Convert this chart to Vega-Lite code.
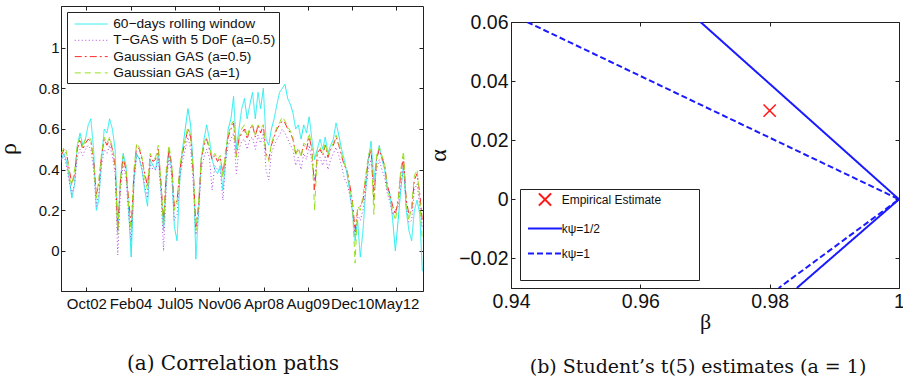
{
  "$schema": "https://vega.github.io/schema/vega-lite/v6.json",
  "background": "white",
  "padding": {"left": -5, "top": 5, "right": 0, "bottom": 0},
  "spacing": 2,
  "config": {
    "view": {"stroke": "#222", "strokeWidth": 1},
    "axis": {"grid": false, "domainColor": "#222", "tickColor": "#222", "labelColor": "#111", "titleColor": "#111", "labelFont": "Liberation Sans", "titleFont": "Liberation Serif", "titleFontWeight": "normal", "tickSize": -4, "labelFlush": false},
    "title": {"font": "DejaVu Serif", "fontWeight": "normal", "color": "#111"}
  },
  "resolve": {
    "scale": {"x": "independent", "y": "independent", "color": "independent", "strokeDash": "independent", "shape": "independent"},
    "legend": {"color": "independent", "strokeDash": "independent", "shape": "independent"}
  },
  "hconcat": [
    {
      "width": 362,
      "height": 285,
      "title": {"text": "(a) Correlation paths", "orient": "bottom", "fontSize": 20, "offset": 43, "dx": -9, "anchor": "middle"},
      "resolve": {"axis": {"x": "independent", "y": "independent"}},
      "layer": [
        {
          "data": {"values": [
            {"d":"2002-01-01","R":0.45,"T":0.44,"G":0.47,"H":0.48},
            {"d":"2002-02-01","R":0.48,"T":0.47,"G":0.50,"H":0.51},
            {"d":"2002-03-01","R":0.44,"T":0.42,"G":0.48,"H":0.49},
            {"d":"2002-04-01","R":0.36,"T":0.34,"G":0.40,"H":0.38},
            {"d":"2002-05-01","R":0.26,"T":0.28,"G":0.33,"H":0.32},
            {"d":"2002-06-01","R":0.33,"T":0.33,"G":0.38,"H":0.40},
            {"d":"2002-07-01","R":0.52,"T":0.46,"G":0.50,"H":0.52},
            {"d":"2002-08-01","R":0.58,"T":0.50,"G":0.55,"H":0.56},
            {"d":"2002-09-01","R":0.52,"T":0.47,"G":0.50,"H":0.51},
            {"d":"2002-10-01","R":0.55,"T":0.50,"G":0.53,"H":0.55},
            {"d":"2002-11-01","R":0.62,"T":0.52,"G":0.55,"H":0.56},
            {"d":"2002-12-01","R":0.65,"T":0.50,"G":0.54,"H":0.55},
            {"d":"2003-01-01","R":0.50,"T":0.40,"G":0.45,"H":0.44},
            {"d":"2003-02-01","R":0.20,"T":0.22,"G":0.28,"H":0.26},
            {"d":"2003-03-01","R":0.25,"T":0.28,"G":0.33,"H":0.35},
            {"d":"2003-04-01","R":0.45,"T":0.42,"G":0.47,"H":0.48},
            {"d":"2003-05-01","R":0.60,"T":0.50,"G":0.55,"H":0.56},
            {"d":"2003-06-01","R":0.58,"T":0.48,"G":0.52,"H":0.53},
            {"d":"2003-07-01","R":0.65,"T":0.52,"G":0.55,"H":0.56},
            {"d":"2003-08-01","R":0.60,"T":0.47,"G":0.50,"H":0.51},
            {"d":"2003-09-01","R":0.50,"T":0.38,"G":0.42,"H":0.44},
            {"d":"2003-10-01","R":0.10,"T":-0.02,"G":0.10,"H":0.08},
            {"d":"2003-11-01","R":0.35,"T":0.30,"G":0.35,"H":0.36},
            {"d":"2003-12-01","R":0.48,"T":0.43,"G":0.46,"H":0.47},
            {"d":"2004-01-01","R":0.42,"T":0.36,"G":0.40,"H":0.42},
            {"d":"2004-02-01","R":0.20,"T":0.18,"G":0.25,"H":0.22},
            {"d":"2004-03-01","R":-0.03,"T":0.05,"G":0.12,"H":0.10},
            {"d":"2004-04-01","R":0.35,"T":0.33,"G":0.38,"H":0.40},
            {"d":"2004-05-01","R":0.48,"T":0.47,"G":0.52,"H":0.53},
            {"d":"2004-06-01","R":0.45,"T":0.46,"G":0.50,"H":0.51},
            {"d":"2004-07-01","R":0.40,"T":0.40,"G":0.45,"H":0.46},
            {"d":"2004-08-01","R":0.30,"T":0.32,"G":0.38,"H":0.36},
            {"d":"2004-09-01","R":0.22,"T":0.26,"G":0.32,"H":0.30},
            {"d":"2004-10-01","R":0.45,"T":0.43,"G":0.47,"H":0.48},
            {"d":"2004-11-01","R":0.42,"T":0.40,"G":0.44,"H":0.45},
            {"d":"2004-12-01","R":0.40,"T":0.40,"G":0.45,"H":0.46},
            {"d":"2005-01-01","R":0.48,"T":0.45,"G":0.50,"H":0.52},
            {"d":"2005-02-01","R":0.30,"T":0.28,"G":0.33,"H":0.32},
            {"d":"2005-03-01","R":0.10,"T":0.00,"G":0.15,"H":0.12},
            {"d":"2005-04-01","R":0.35,"T":0.32,"G":0.38,"H":0.40},
            {"d":"2005-05-01","R":0.50,"T":0.46,"G":0.50,"H":0.52},
            {"d":"2005-06-01","R":0.40,"T":0.37,"G":0.42,"H":0.43},
            {"d":"2005-07-01","R":0.12,"T":0.15,"G":0.22,"H":0.20},
            {"d":"2005-08-01","R":0.05,"T":0.18,"G":0.25,"H":0.24},
            {"d":"2005-09-01","R":0.35,"T":0.36,"G":0.40,"H":0.42},
            {"d":"2005-10-01","R":0.50,"T":0.44,"G":0.48,"H":0.50},
            {"d":"2005-11-01","R":0.60,"T":0.50,"G":0.54,"H":0.55},
            {"d":"2005-12-01","R":0.70,"T":0.56,"G":0.60,"H":0.61},
            {"d":"2006-01-01","R":0.62,"T":0.50,"G":0.56,"H":0.57},
            {"d":"2006-02-01","R":0.40,"T":0.32,"G":0.38,"H":0.37},
            {"d":"2006-03-01","R":-0.04,"T":0.08,"G":0.12,"H":0.10},
            {"d":"2006-04-01","R":0.20,"T":0.18,"G":0.22,"H":0.24},
            {"d":"2006-05-01","R":0.45,"T":0.40,"G":0.45,"H":0.46},
            {"d":"2006-06-01","R":0.55,"T":0.46,"G":0.52,"H":0.53},
            {"d":"2006-07-01","R":0.62,"T":0.50,"G":0.55,"H":0.56},
            {"d":"2006-08-01","R":0.55,"T":0.46,"G":0.50,"H":0.51},
            {"d":"2006-09-01","R":0.45,"T":0.30,"G":0.45,"H":0.46},
            {"d":"2006-10-01","R":0.40,"T":0.42,"G":0.47,"H":0.48},
            {"d":"2006-11-01","R":0.38,"T":0.40,"G":0.44,"H":0.45},
            {"d":"2006-12-01","R":0.42,"T":0.40,"G":0.46,"H":0.47},
            {"d":"2007-01-01","R":0.30,"T":0.25,"G":0.38,"H":0.36},
            {"d":"2007-02-01","R":0.45,"T":0.44,"G":0.48,"H":0.50},
            {"d":"2007-03-01","R":0.60,"T":0.52,"G":0.56,"H":0.57},
            {"d":"2007-04-01","R":0.65,"T":0.55,"G":0.60,"H":0.62},
            {"d":"2007-05-01","R":0.76,"T":0.58,"G":0.63,"H":0.64},
            {"d":"2007-06-01","R":0.50,"T":0.38,"G":0.47,"H":0.46},
            {"d":"2007-07-01","R":0.60,"T":0.50,"G":0.55,"H":0.56},
            {"d":"2007-08-01","R":0.70,"T":0.54,"G":0.58,"H":0.60},
            {"d":"2007-09-01","R":0.75,"T":0.55,"G":0.60,"H":0.62},
            {"d":"2007-10-01","R":0.65,"T":0.50,"G":0.55,"H":0.56},
            {"d":"2007-11-01","R":0.72,"T":0.55,"G":0.60,"H":0.61},
            {"d":"2007-12-01","R":0.78,"T":0.56,"G":0.62,"H":0.62},
            {"d":"2008-01-01","R":0.65,"T":0.50,"G":0.56,"H":0.57},
            {"d":"2008-02-01","R":0.78,"T":0.57,"G":0.62,"H":0.62},
            {"d":"2008-03-01","R":0.70,"T":0.53,"G":0.58,"H":0.60},
            {"d":"2008-04-01","R":0.80,"T":0.58,"G":0.62,"H":0.62},
            {"d":"2008-05-01","R":0.55,"T":0.40,"G":0.48,"H":0.46},
            {"d":"2008-06-01","R":0.52,"T":0.35,"G":0.45,"H":0.44},
            {"d":"2008-07-01","R":0.60,"T":0.48,"G":0.52,"H":0.53},
            {"d":"2008-08-01","R":0.65,"T":0.52,"G":0.56,"H":0.57},
            {"d":"2008-09-01","R":0.72,"T":0.55,"G":0.60,"H":0.61},
            {"d":"2008-10-01","R":0.78,"T":0.57,"G":0.62,"H":0.63},
            {"d":"2008-11-01","R":0.80,"T":0.60,"G":0.64,"H":0.66},
            {"d":"2008-12-01","R":0.82,"T":0.58,"G":0.63,"H":0.64},
            {"d":"2009-01-01","R":0.75,"T":0.55,"G":0.60,"H":0.61},
            {"d":"2009-02-01","R":0.72,"T":0.52,"G":0.58,"H":0.59},
            {"d":"2009-03-01","R":0.68,"T":0.50,"G":0.55,"H":0.56},
            {"d":"2009-04-01","R":0.60,"T":0.42,"G":0.48,"H":0.47},
            {"d":"2009-05-01","R":0.62,"T":0.46,"G":0.50,"H":0.51},
            {"d":"2009-06-01","R":0.55,"T":0.40,"G":0.47,"H":0.46},
            {"d":"2009-07-01","R":0.62,"T":0.48,"G":0.52,"H":0.53},
            {"d":"2009-08-01","R":0.58,"T":0.45,"G":0.50,"H":0.52},
            {"d":"2009-09-01","R":0.66,"T":0.52,"G":0.56,"H":0.58},
            {"d":"2009-10-01","R":0.55,"T":0.44,"G":0.50,"H":0.51},
            {"d":"2009-11-01","R":0.45,"T":0.35,"G":0.30,"H":0.20},
            {"d":"2009-12-01","R":0.50,"T":0.44,"G":0.48,"H":0.49},
            {"d":"2010-01-01","R":0.55,"T":0.46,"G":0.50,"H":0.51},
            {"d":"2010-02-01","R":0.50,"T":0.42,"G":0.47,"H":0.48},
            {"d":"2010-03-01","R":0.56,"T":0.47,"G":0.52,"H":0.53},
            {"d":"2010-04-01","R":0.48,"T":0.40,"G":0.46,"H":0.47},
            {"d":"2010-05-01","R":0.52,"T":0.45,"G":0.50,"H":0.51},
            {"d":"2010-06-01","R":0.55,"T":0.48,"G":0.52,"H":0.53},
            {"d":"2010-07-01","R":0.63,"T":0.51,"G":0.56,"H":0.57},
            {"d":"2010-08-01","R":0.57,"T":0.47,"G":0.52,"H":0.53},
            {"d":"2010-09-01","R":0.50,"T":0.42,"G":0.47,"H":0.48},
            {"d":"2010-10-01","R":0.45,"T":0.36,"G":0.42,"H":0.43},
            {"d":"2010-11-01","R":0.38,"T":0.33,"G":0.40,"H":0.40},
            {"d":"2010-12-01","R":0.30,"T":0.28,"G":0.33,"H":0.32},
            {"d":"2011-01-01","R":0.20,"T":0.20,"G":0.25,"H":0.24},
            {"d":"2011-02-01","R":0.05,"T":0.08,"G":0.10,"H":-0.06},
            {"d":"2011-03-01","R":0.15,"T":0.18,"G":0.20,"H":0.22},
            {"d":"2011-04-01","R":-0.03,"T":0.15,"G":0.22,"H":0.20},
            {"d":"2011-05-01","R":0.10,"T":0.20,"G":0.25,"H":0.27},
            {"d":"2011-06-01","R":0.30,"T":0.30,"G":0.35,"H":0.37},
            {"d":"2011-07-01","R":0.45,"T":0.40,"G":0.45,"H":0.47},
            {"d":"2011-08-01","R":0.54,"T":0.45,"G":0.50,"H":0.51},
            {"d":"2011-09-01","R":0.35,"T":0.30,"G":0.25,"H":0.18},
            {"d":"2011-10-01","R":0.45,"T":0.40,"G":0.45,"H":0.47},
            {"d":"2011-11-01","R":0.52,"T":0.45,"G":0.50,"H":0.51},
            {"d":"2011-12-01","R":0.45,"T":0.40,"G":0.46,"H":0.47},
            {"d":"2012-01-01","R":0.40,"T":0.36,"G":0.42,"H":0.43},
            {"d":"2012-02-01","R":0.30,"T":0.28,"G":0.32,"H":0.30},
            {"d":"2012-03-01","R":0.28,"T":0.24,"G":0.28,"H":0.26},
            {"d":"2012-04-01","R":0.15,"T":0.18,"G":0.22,"H":0.20},
            {"d":"2012-05-01","R":0.00,"T":0.20,"G":0.18,"H":0.15},
            {"d":"2012-06-01","R":0.15,"T":0.22,"G":0.25,"H":0.24},
            {"d":"2012-07-01","R":0.30,"T":0.32,"G":0.38,"H":0.40},
            {"d":"2012-08-01","R":0.42,"T":0.42,"G":0.46,"H":0.49},
            {"d":"2012-09-01","R":0.20,"T":0.22,"G":0.25,"H":0.22},
            {"d":"2012-10-01","R":0.10,"T":0.14,"G":0.18,"H":0.15},
            {"d":"2012-11-01","R":0.05,"T":0.15,"G":0.20,"H":0.22},
            {"d":"2012-12-01","R":0.20,"T":0.30,"G":0.35,"H":0.37},
            {"d":"2013-01-01","R":0.25,"T":0.33,"G":0.38,"H":0.40},
            {"d":"2013-02-01","R":0.18,"T":0.22,"G":0.28,"H":0.25},
            {"d":"2013-03-01","R":-0.10,"T":0.12,"G":0.15,"H":0.05}
          ]},
          "transform": [{"fold": ["R", "T", "G", "H"], "as": ["series", "rho"]}],
          "mark": {"type": "line", "strokeWidth": 1, "clip": true},
          "encoding": {
            "x": {
              "field": "d", "type": "temporal",
              "scale": {"type": "utc", "domain": [{"year": 2001, "month": 12, "date": 29, "utc": true}, {"year": 2013, "month": 3, "date": 9, "utc": true}]},
              "axis": {
                "orient": "bottom", "title": null, "format": "%b%y", "labelFontSize": 15, "labelPadding": 9,
                "values": [
                  {"year": 2002, "month": 10, "date": 11, "utc": true},
                  {"year": 2004, "month": 2, "date": 23, "utc": true},
                  {"year": 2005, "month": 7, "date": 8, "utc": true},
                  {"year": 2006, "month": 11, "date": 20, "utc": true},
                  {"year": 2008, "month": 4, "date": 3, "utc": true},
                  {"year": 2009, "month": 8, "date": 16, "utc": true},
                  {"year": 2010, "month": 12, "date": 29, "utc": true},
                  {"year": 2012, "month": 5, "date": 12, "utc": true}
                ]
              }
            },
            "y": {
              "field": "rho", "type": "quantitative",
              "scale": {"domain": [-0.197, 1.205], "nice": false, "zero": false},
              "axis": {"orient": "left", "title": "ρ", "values": [0, 0.2, 0.4, 0.6, 0.8, 1], "format": ".1~f", "labelFontSize": 15, "labelPadding": 6, "titleFontSize": 24, "titlePadding": 18}
            },
            "color": {
              "field": "series", "type": "nominal",
              "scale": {"domain": ["R", "T", "G", "H"], "range": ["#22eef0", "#b048e0", "#ff2a2a", "#96e01e"]},
              "legend": {
                "title": null, "orient": "top-left", "offset": 6, "fillColor": "white", "strokeColor": "#222", "padding": 3,
                "symbolType": "M-2,0L2,0", "symbolSize": 272, "symbolStrokeWidth": 1, "symbolOffset": 12.25,
                "labelFont": "Liberation Sans", "labelFontSize": 13.7, "labelColor": "#111", "labelLimit": 400, "labelOffset": 13, "rowPadding": 0.3,
                "labelExpr": "{'R': '60−days rolling window', 'T': 'T−GAS with 5 DoF (a=0.5)', 'G': 'Gaussian GAS (a=0.5)', 'H': 'Gaussian GAS (a=1)'}[datum.label]"
              }
            },
            "strokeDash": {
              "field": "series", "type": "nominal",
              "scale": {"domain": ["R", "T", "G", "H"], "range": [[1, 0], [1, 2.5], [7, 3, 2, 3], [6, 4]]},
              "legend": {
                "title": null, "orient": "top-left", "offset": 6, "fillColor": "white", "strokeColor": "#222", "padding": 3,
                "symbolType": "M-2,0L2,0", "symbolSize": 272, "symbolStrokeWidth": 1, "symbolOffset": 12.25,
                "labelFont": "Liberation Sans", "labelFontSize": 13.7, "labelColor": "#111", "labelLimit": 400, "labelOffset": 13, "rowPadding": 0.3,
                "labelExpr": "{'R': '60−days rolling window', 'T': 'T−GAS with 5 DoF (a=0.5)', 'G': 'Gaussian GAS (a=0.5)', 'H': 'Gaussian GAS (a=1)'}[datum.label]"
              }
            }
          }
        },
        {
          "data": {"values": []},
          "mark": {"type": "point"},
          "encoding": {
            "x": {"field": "d", "type": "temporal",
              "axis": {"orient": "top", "labels": false, "domain": false, "title": null,
                "values": [
                  {"year": 2002, "month": 10, "date": 11, "utc": true},
                  {"year": 2004, "month": 2, "date": 23, "utc": true},
                  {"year": 2005, "month": 7, "date": 8, "utc": true},
                  {"year": 2006, "month": 11, "date": 20, "utc": true},
                  {"year": 2008, "month": 4, "date": 3, "utc": true},
                  {"year": 2009, "month": 8, "date": 16, "utc": true},
                  {"year": 2010, "month": 12, "date": 29, "utc": true},
                  {"year": 2012, "month": 5, "date": 12, "utc": true}
                ]}},
            "y": {"field": "rho", "type": "quantitative",
              "axis": {"orient": "right", "labels": false, "domain": false, "title": null, "values": [0, 0.2, 0.4, 0.6, 0.8, 1]}}
          }
        }
      ]
    },
    {
      "spacing": 0,
      "resolve": {"legend": {"color": "independent", "strokeDash": "independent", "shape": "independent"}},
      "vconcat": [
        {
          "width": 388,
          "height": 5,
          "view": {"stroke": null},
          "data": {"values": []},
          "mark": {"type": "point"},
          "encoding": {}
        },
        {
          "width": 388,
          "height": 266,
          "title": {"text": "(b) Student’s t(5) estimates (a = 1)", "orient": "bottom", "fontSize": 19, "offset": 26, "dx": -7, "anchor": "middle"},
          "resolve": {"axis": {"x": "independent", "y": "independent"}},
          "layer": [
            {
              "data": {"values": [
                {"b": 0.9693, "a": 0.06, "k": "half", "o": 1},
                {"b": 1.0, "a": 0.0, "k": "half", "o": 2},
                {"b": 0.9842, "a": -0.03, "k": "half", "o": 3},
                {"b": 0.9425, "a": 0.06, "k": "one", "o": 1},
                {"b": 1.0, "a": 0.0, "k": "one", "o": 2},
                {"b": 0.9814, "a": -0.03, "k": "one", "o": 3}
              ]},
              "mark": {"type": "line", "strokeWidth": 2, "clip": true},
              "encoding": {
                "x": {"field": "b", "type": "quantitative", "scale": {"domain": [0.94, 1], "nice": false, "zero": false},
                  "axis": {"orient": "bottom", "title": "β", "values": [0.94, 0.96, 0.98, 1], "format": "~g", "labelFontSize": 19.5, "labelPadding": 8.5, "titleFontSize": 22, "titlePadding": 0}},
                "y": {"field": "a", "type": "quantitative", "scale": {"domain": [-0.03, 0.06], "nice": false, "zero": false},
                  "axis": {"orient": "left", "title": "α", "values": [-0.02, 0, 0.02, 0.04, 0.06], "format": "~g", "labelFontSize": 19.5, "labelPadding": 7, "titleFontSize": 24, "titlePadding": 8}},
                "order": {"field": "o", "type": "quantitative"},
                "color": {"field": "k", "type": "nominal",
                  "scale": {"domain": ["emp", "half", "one"], "range": ["#ff1a1a", "#1a1aff", "#1a1aff"]},
                  "legend": {
                    "title": "⠀", "titleOrient": "bottom", "titleFontSize": 10, "titlePadding": 9,
                    "orient": "bottom-left", "offset": 8.5, "fillColor": "white", "strokeColor": "#222", "padding": 1,
                    "symbolSize": 289, "symbolStrokeWidth": 2, "symbolOffset": 14.5,
                    "labelFont": "Liberation Sans", "labelFontSize": 12, "labelColor": "#111", "labelOffset": 7.2, "rowPadding": 9, "labelLimit": 400,
                    "labelExpr": "{'emp': 'Empirical Estimate⠀⠀⠀⠀', 'half': 'kψ=1/2', 'one': 'kψ=1'}[datum.label]"
                  }},
                "strokeDash": {"field": "k", "type": "nominal",
                  "scale": {"domain": ["emp", "half", "one"], "range": [[1, 0], [1, 0], [6, 3]]},
                  "legend": {
                    "title": "⠀", "titleOrient": "bottom", "titleFontSize": 10, "titlePadding": 9,
                    "orient": "bottom-left", "offset": 8.5, "fillColor": "white", "strokeColor": "#222", "padding": 1,
                    "symbolSize": 289, "symbolStrokeWidth": 2, "symbolOffset": 14.5,
                    "labelFont": "Liberation Sans", "labelFontSize": 12, "labelColor": "#111", "labelOffset": 7.2, "rowPadding": 9, "labelLimit": 400,
                    "labelExpr": "{'emp': 'Empirical Estimate⠀⠀⠀⠀', 'half': 'kψ=1/2', 'one': 'kψ=1'}[datum.label]"
                  }}
              }
            },
            {
              "data": {"values": [{"b": 0.98, "a": 0.03, "k": "emp"}]},
              "mark": {"type": "point", "filled": false, "strokeWidth": 1.6, "size": 289, "opacity": 1},
              "encoding": {
                "x": {"field": "b", "type": "quantitative",
                  "axis": {"orient": "top", "labels": false, "domain": false, "values": [0.94, 0.96, 0.98, 1], "title": null}},
                "y": {"field": "a", "type": "quantitative",
                  "axis": {"orient": "right", "labels": false, "domain": false, "values": [-0.02, 0, 0.02, 0.04, 0.06], "title": null}},
                "color": {"field": "k", "type": "nominal"},
                "shape": {"field": "k", "type": "nominal",
                  "scale": {"domain": ["emp", "half", "one"], "range": ["M-0.72,-0.72L0.72,0.72M-0.72,0.72L0.72,-0.72", "M-2,0L2,0", "M-2,0L2,0"]},
                  "legend": {
                    "title": "⠀", "titleOrient": "bottom", "titleFontSize": 10, "titlePadding": 9,
                    "orient": "bottom-left", "offset": 8.5, "fillColor": "white", "strokeColor": "#222", "padding": 1,
                    "symbolSize": 289, "symbolStrokeWidth": 2, "symbolOffset": 14.5,
                    "labelFont": "Liberation Sans", "labelFontSize": 12, "labelColor": "#111", "labelOffset": 7.2, "rowPadding": 9, "labelLimit": 400,
                    "labelExpr": "{'emp': 'Empirical Estimate⠀⠀⠀⠀', 'half': 'kψ=1/2', 'one': 'kψ=1'}[datum.label]"
                  }}
              }
            }
          ]
        }
      ]
    }
  ]
}
